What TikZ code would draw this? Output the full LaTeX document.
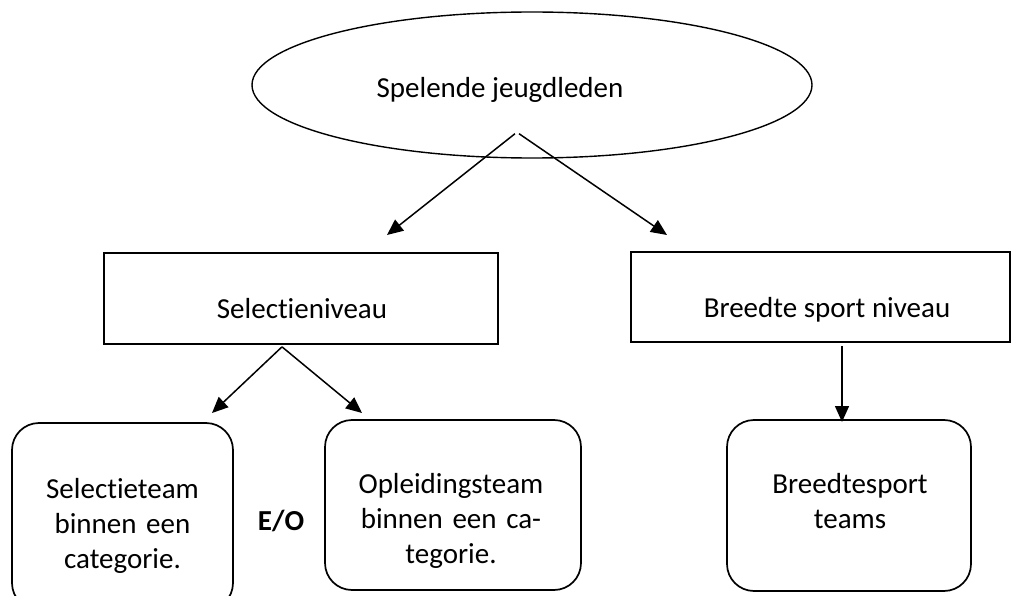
\documentclass[tikz,border=0pt]{standalone}
\usepackage{fontspec}
\setmainfont{Carlito}[Ligatures={NoCommon,NoRare,NoContextual}]
\usetikzlibrary{arrows.meta,shapes.geometric,calc}
\begin{document}
\begin{tikzpicture}[x=1pt,y=-1pt,
  txt/.style={font=\fontsize{29}{35.4}\selectfont, inner sep=0pt, anchor=base},
  mtxt/.style={txt, align=center, text width=#1},
  oval/.style={draw, ellipse, line width=1.4pt, inner sep=0pt},
  sqbox/.style={draw, rectangle, line width=1.7pt, inner sep=0pt},
  rbox/.style={draw, rectangle, rounded corners=27pt, line width=1.7pt, inner sep=0pt},
  conn/.style={line width=1.5pt, -{Triangle[length=16pt,width=14pt]}}]
\useasboundingbox (0,0) rectangle (1012,596);
\clip (0,0) rectangle (1012,596);
\fill[white] (0,0) rectangle (1012,596);

% top ellipse
\node[oval, minimum width=560pt, minimum height=146pt] (top) at (532,85) {};
\node[txt] (toplbl) at (500,98) {Spelende jeugdleden};

% level rectangles
\node[sqbox, minimum width=394pt, minimum height=91pt] (sel) at (301,298.5) {};
\node[txt] (sellbl) at (302,318) {Selectieniveau};
\node[sqbox, minimum width=379pt, minimum height=90pt] (brd) at (820.5,297) {};
\node[txt] (brdlbl) at (827,317) {Breedte sport niveau};

% rounded boxes
\node[rbox, minimum width=221pt, minimum height=187pt] (seltm) at (122.5,516.5) {};
\node[mtxt=221pt] (seltmlbl) at (122.5,498) {Selectieteam\\binnen een\\categorie.};
\node[rbox, minimum width=256pt, minimum height=170pt] (opl) at (453,505) {};
\node[mtxt=256pt] (opllbl) at (451,493) {Opleidingsteam\\binnen een ca-\\tegorie.};
\node[rbox, minimum width=244pt, minimum height=171pt] (bst) at (849,505.5) {};
\node[mtxt=244pt] (bstlbl) at (850,493) {Breedtesport\\teams};

% E/O
\node[txt, font=\fontsize{29}{35.4}\selectfont\bfseries] (eo) at (281,530) {E/O};

% connector end points
\coordinate (topA) at ($(top.south)+(-17,-25)$);
\coordinate (topB) at ($(top.south)+(-13,-25)$);
\coordinate (selTip) at (387,235);
\coordinate (brdTip) at (667,235);
\coordinate (selS) at ($(sel.south)+(-19,2)$);
\coordinate (seltmTip) at (212,413);
\coordinate (oplTip) at (362,413);
\coordinate (brdS) at ($(brd.south)+(21.5,3)$);
\coordinate (bstTip) at (842,422);

\draw[conn] (topA) -- (selTip);
\draw[conn] (topB) -- (brdTip);
\draw[conn] (selS) -- (seltmTip);
\draw[conn] (selS) -- (oplTip);
\draw[conn] (brdS) -- (bstTip);
\end{tikzpicture}
\end{document}
